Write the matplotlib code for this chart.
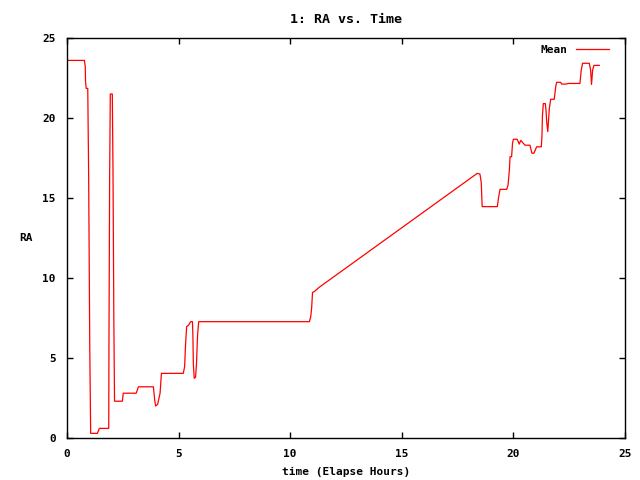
import matplotlib
matplotlib.use('Agg')
import matplotlib.pyplot as plt

plt.rcParams['font.family'] = 'DejaVu Sans Mono'
plt.rcParams['font.weight'] = 'bold'
plt.rcParams['axes.titleweight'] = 'bold'
plt.rcParams['axes.labelweight'] = 'bold'
plt.rcParams['font.size'] = 8

# elapsed hours / mean RA
hours = [0, 0.78, 0.82, 0.83, 0.86, 0.93, 0.97, 1.02, 1.06, 1.36, 1.45, 1.87,
         1.88, 1.91, 1.94, 2.03, 2.06, 2.1, 2.13, 2.48, 2.52, 3.1, 3.2, 3.87,
         3.93, 3.97, 4.06, 4.17, 4.23, 5.21, 5.27, 5.31, 5.36, 5.45, 5.54, 5.62,
         5.64, 5.66, 5.7, 5.76, 5.8, 5.85, 5.9, 10.86, 10.92, 10.96, 11.0, 11.08,
         11.3, 18.38, 18.5, 18.56, 18.6, 19.28, 19.33, 19.4, 19.7, 19.76, 19.82,
         19.85, 19.92, 19.96, 20.0, 20.17, 20.26, 20.33, 20.52, 20.74, 20.83,
         20.92, 21.04, 21.25, 21.28, 21.3, 21.34, 21.43, 21.46, 21.49, 21.54,
         21.61, 21.67, 21.83, 21.9, 21.94, 22.12, 22.16, 22.36, 22.46, 22.98,
         23.04, 23.1, 23.4, 23.46, 23.5, 23.55, 23.61, 23.85]
ra_mean = [23.6, 23.6, 23.2, 22.3, 21.85, 21.85, 16.4, 5.7, 0.29, 0.29, 0.6, 0.6,
           5.8, 16.3, 21.5, 21.5, 16.75, 7.1, 2.3, 2.3, 2.8, 2.8, 3.2, 3.2,
           2.37, 2.0, 2.1, 2.8, 4.04, 4.04, 4.46, 5.8, 6.96, 7.06, 7.27, 7.27,
           6.44, 4.67, 3.73, 3.8, 4.6, 6.44, 7.27, 7.27, 7.58, 8.1, 9.1, 9.15,
           9.42, 16.54, 16.5, 15.96, 14.46, 14.46, 14.98, 15.54, 15.54, 15.8, 16.75,
           17.58, 17.58, 18.42, 18.67, 18.67, 18.37, 18.6, 18.3, 18.3, 17.8,
           17.8, 18.2, 18.2, 18.87, 20.1, 20.9, 20.9, 20.5, 19.8, 19.15,
           20.6, 21.17, 21.17, 22.0, 22.23, 22.23, 22.12, 22.12, 22.16, 22.16,
           23.0, 23.42, 23.42, 23.0, 22.1, 23.0, 23.29, 23.29]

xticks = [0, 5, 10, 15, 20, 25]
yticks = [0, 5, 10, 15, 20, 25]

fig = plt.figure(figsize=(6.4, 4.8), dpi=100)
ax = fig.add_axes([67/640, 42/480, 558/640, 400/480])

ax.plot(hours, ra_mean, color='#ff0000', lw=0.9, label='Mean')

ax.set_xlim(0, 25)
ax.set_ylim(0, 25)
ax.set_xticks(xticks)
ax.set_yticks(yticks)
ax.tick_params(direction='in', length=4, width=1, top=True, right=True, pad=8)
for s in ax.spines.values():
    s.set_linewidth(1)

ax.set_title('1: RA vs. Time', pad=11)
ax.set_xlabel('time (Elapse Hours)', labelpad=6)
ax.set_ylabel('RA', rotation=0, labelpad=12, va='center')

ax.legend(loc='upper right', bbox_to_anchor=(1 - 8/558, 1 + 1/400), frameon=False,
          markerfirst=False, handlelength=3.0, borderaxespad=0.3, handletextpad=0.72)

fig.savefig('out.png', dpi=100)
